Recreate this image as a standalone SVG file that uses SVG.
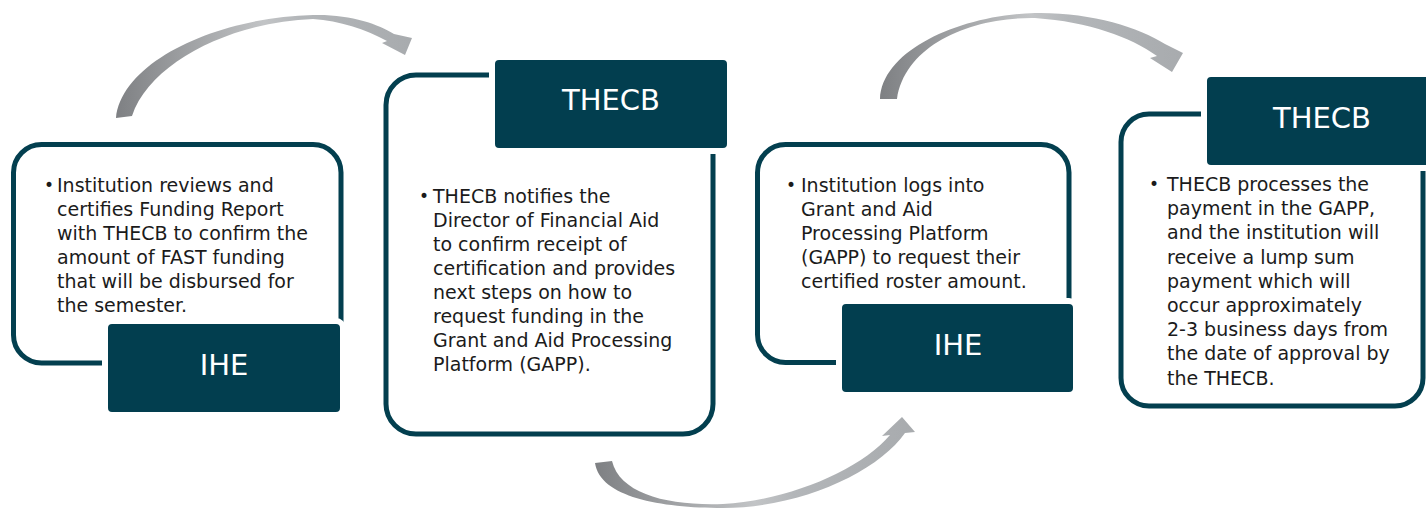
<svg xmlns="http://www.w3.org/2000/svg" width="1426" height="510" viewBox="0 0 1426 510">
<defs>
<linearGradient id="g1" x1="0" y1="0" x2="1" y2="0">
<stop offset="0" stop-color="#7e8083"/>
<stop offset="0.5" stop-color="#c2c4c6"/>
<stop offset="0.62" stop-color="#b3b6b9"/>
<stop offset="1" stop-color="#a8abae"/>
</linearGradient>
<style>
.outline{fill:#ffffff;stroke:#033f4f;stroke-width:5}
.tag{fill:#023e4f;stroke:#ffffff;stroke-width:6}
.lbl{font-family:"DejaVu Sans","Liberation Sans",sans-serif;font-size:29px;fill:#ffffff;text-anchor:middle}
.body{font-family:"DejaVu Sans","Liberation Sans",sans-serif;font-size:19px;fill:#1b1b1b}
.bul{font-family:"DejaVu Sans","Liberation Sans",sans-serif;font-size:17px;fill:#1b1b1b}
.arrow{fill:url(#g1)}
</style>
</defs>
<rect width="1426" height="510" fill="#ffffff"/>
<g id="connectors">
<path class="arrow" d="M116,118 C122,60 220,17 313,15 C350,14 378,24 394,34 L412,38 L405,55 L382,43 L387,41 C365,29 340,21 313,19 C232,22 150,62 132,116 Z"/>
<path class="arrow" d="M595,463 C600,497 660,508 723,508 C800,508 878,472 905,433 L915,432 L902,417 L882,436 L890,435 C860,470 790,500 723,504 C668,506 620,494 612,461 Z"/>
<path class="arrow" d="M880,99 C882,50 960,15 1035,13 C1090,12 1138,27 1165,44 L1183,53 L1172,72 L1150,58 L1157,56 C1130,37 1090,22 1035,18 C970,17 905,45 897,99 Z"/>
</g>
<g id="node1">
<rect class="outline" x="13.5" y="144.5" width="327.5" height="218.5" rx="28"/>
<rect class="tag" x="105" y="321" width="238" height="94" rx="7"/>
<text class="lbl" x="224" y="375">IHE</text>
<text class="bul" x="44" y="191">•</text>
<text class="body" x="57" y="192">Institution reviews and</text>
<text class="body" x="57" y="216">certifies Funding Report</text>
<text class="body" x="57" y="240">with THECB to confirm the</text>
<text class="body" x="57" y="264">amount of FAST funding</text>
<text class="body" x="57" y="288">that will be disbursed for</text>
<text class="body" x="57" y="312">the semester.</text>
</g>
<g id="node2">
<rect class="outline" x="386" y="75" width="327" height="359" rx="30"/>
<rect class="tag" x="492" y="57" width="238" height="94" rx="7"/>
<text class="lbl" x="611" y="110">THECB</text>
<text class="bul" x="419" y="202">•</text>
<text class="body" x="433" y="203">THECB notifies the</text>
<text class="body" x="433" y="227">Director of Financial Aid</text>
<text class="body" x="433" y="251">to confirm receipt of</text>
<text class="body" x="433" y="275">certification and provides</text>
<text class="body" x="433" y="299">next steps on how to</text>
<text class="body" x="433" y="323">request funding in the</text>
<text class="body" x="433" y="347">Grant and Aid Processing</text>
<text class="body" x="433" y="371">Platform (GAPP).</text>
</g>
<g id="node3">
<rect class="outline" x="757.5" y="144.5" width="311.5" height="218" rx="28"/>
<rect class="tag" x="839" y="301" width="237" height="94" rx="7"/>
<text class="lbl" x="958" y="355">IHE</text>
<text class="bul" x="786" y="191">•</text>
<text class="body" x="801" y="192">Institution logs into</text>
<text class="body" x="801" y="216">Grant and Aid</text>
<text class="body" x="801" y="240">Processing Platform</text>
<text class="body" x="801" y="264">(GAPP) to request their</text>
<text class="body" x="801" y="288">certified roster amount.</text>
</g>
<g id="node4">
<rect class="outline" x="1121" y="114" width="302" height="292" rx="28"/>
<rect class="tag" x="1204" y="74" width="238" height="94" rx="7"/>
<text class="lbl" x="1322" y="128">THECB</text>
<text class="bul" x="1149" y="190">•</text>
<text class="body" x="1167" y="191">THECB processes the</text>
<text class="body" x="1167" y="215.2">payment in the GAPP,</text>
<text class="body" x="1167" y="239.4">and the institution will</text>
<text class="body" x="1167" y="263.6">receive a lump sum</text>
<text class="body" x="1167" y="287.8">payment which will</text>
<text class="body" x="1167" y="312">occur approximately</text>
<text class="body" x="1167" y="336.2">2-3 business days from</text>
<text class="body" x="1167" y="360.4">the date of approval by</text>
<text class="body" x="1167" y="384.6">the THECB.</text>
</g>
</svg>
